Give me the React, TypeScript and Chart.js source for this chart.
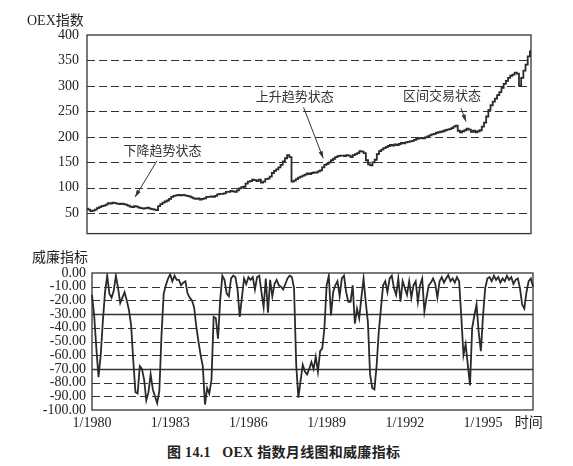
import React, { useEffect, useRef } from 'react';
import { Chart, registerables } from 'chart.js';

Chart.register(...registerables);

// ---------- data ----------
const YEARS = [1980, 1981, 1982, 1983, 1984, 1985, 1986, 1987, 1988, 1989, 1990, 1991, 1992, 1993, 1994, 1995, 1996];
const MONTH_LABELS: string[] = [];
YEARS.forEach((y) => { for (let m = 1; m <= 12; m++) MONTH_LABELS.push(`${m}/${y}`); });

const X_TICK_LABELS = ['1/1980', '1/1983', '1/1986', '1/1989', '1/1992', '1/1995'];
const TIME_LABEL_AT = '10/1996';
const TIME_LABEL = '时间';

const OEX = [
  59, 57, 54, 55, 57, 60, 62, 64, 65, 67, 70, 69,
  71, 70, 69, 68, 69, 68, 67, 65, 63, 62, 64, 63,
  61, 60, 59, 60, 61, 59, 58, 57, 56, 64, 68, 71,
  73, 75, 78, 82, 84, 85, 86, 85, 86, 85, 84, 83,
  81, 79, 78, 79, 77, 78, 79, 82, 82, 83, 82, 84,
  87, 88, 88, 89, 92, 92, 94, 93, 92, 95, 99, 101,
  102, 108, 112, 113, 116, 115, 113, 116, 110, 112, 117, 118,
  122, 129, 133, 136, 140, 145, 152, 158, 164, 160, 112, 114,
  117, 120, 122, 124, 126, 128, 127, 129, 130, 130, 132, 134,
  140, 145, 147, 150, 154, 157, 160, 162, 163, 163, 162, 164,
  163, 160, 164, 166, 168, 172, 171, 168, 154, 146, 144, 150,
  155, 166, 172, 175, 178, 180, 182, 184, 183, 185, 184, 186,
  188, 187, 189, 190, 191, 192, 194, 196, 197, 198, 197, 199,
  201, 203, 205, 206, 208, 209, 210, 211, 213, 214, 215, 217,
  220, 222, 212, 209, 211, 213, 216, 214, 210, 212, 209, 211,
  213, 220, 228, 240, 253, 262, 269, 275, 282, 288, 296, 304,
  310, 316, 320, 322, 326, 324, 300, 316, 330, 342, 358, 368,
];

const WILLIAMS = [
  -16, -31, -55, -76, -60, -35, -14, -2, -15, -18, -13, -2,
  -11, -22, -18, -14, -20, -27, -38, -64, -87, -88, -68, -70,
  -78, -93, -87, -74, -85, -90, -95, -86, -45, -15, -9, -4,
  -1, -6, -2, -5, -5, -9, -7, -6, -15, -18, -20, -25,
  -39, -50, -60, -68, -96, -84, -88, -78, -32, -33, -48, -20,
  -2, -5, -15, -17, -4, -2, -3, -12, -32, -18, -4, -8,
  -3, -5, -3, -12, -3, -2, -14, -25, -4, -29, -5, -17,
  -8, -5, -9, -10, -12, -8, -4, -2, -3, -11, -67, -91,
  -79, -67, -72, -74, -70, -65, -70, -61, -72, -57, -55, -40,
  -9, -2, -31, -14, -9, -6, -17, -4, -2, -14, -21, -21,
  -9, -37, -26, -33, -18, -4, -21, -36, -74, -84, -85, -68,
  -43, -26, -9, -6, -14, -4, -2, -11, -16, -4, -21, -6,
  -11, -16, -6, -18, -9, -6, -21, -9, -4, -28, -18, -9,
  -7, -4, -8, -18, -6, -3, -7, -4, -1.5, -6, -4, -7,
  -3, -6, -32, -60, -52, -67, -82, -40, -31, -23, -43, -57,
  -31, -11, -4, -3, -6, -2, -5, -3, -7, -4, -6, -2,
  -5, -3, -8, -5, -4, -11, -23, -26, -14, -6, -4, -10,
];

const TOP_TICKS = [50, 100, 150, 200, 250, 300, 350, 400];
const TOP_DASHED = [50, 100, 150, 200, 250, 300, 350];
const WR_TICKS = [0, -10, -20, -30, -40, -50, -60, -70, -80, -90, -100];
const WR_DASHED = [-10, -20, -40, -50, -60, -80, -90];
const WR_SOLID = [-30, -70];

const ANNOTATIONS = [
  { text: '下降趋势状态', textIdx: 34.5, textVal: 172, tailIdx: 32, tailVal: 153, tipIdx: 22, tipVal: 82 },
  { text: '上升趋势状态', textIdx: 95, textVal: 278, tailIdx: 99, tailVal: 258, tipIdx: 108, tipVal: 158 },
  { text: '区间交易状态', textIdx: 162.3, textVal: 280, tailIdx: 171, tailVal: 256, tipIdx: 173.3, tipVal: 230 },
];

const SERIF = "'Liberation Serif', 'Noto Sans CJK SC', serif";
const INK = '#2a2a2a';

// ---------- plugins ----------
function makeGridFrame(dashed: number[], solid: number[]) {
  return {
    id: 'gridFrame',
    beforeDatasetsDraw(chart: any) {
      const { ctx, chartArea: a } = chart;
      const y = chart.scales.y;
      ctx.save();
      ctx.strokeStyle = '#333';
      ctx.lineWidth = 1;
      ctx.setLineDash([8, 4]);
      dashed.forEach((v) => {
        const py = Math.round(y.getPixelForValue(v)) + 0.5;
        ctx.beginPath(); ctx.moveTo(a.left, py); ctx.lineTo(a.right, py); ctx.stroke();
      });
      ctx.setLineDash([]);
      ctx.lineWidth = 1.5;
      solid.forEach((v) => {
        const py = Math.round(y.getPixelForValue(v)) + 0.5;
        ctx.beginPath(); ctx.moveTo(a.left, py); ctx.lineTo(a.right, py); ctx.stroke();
      });
      ctx.lineWidth = 1.3;
      ctx.strokeRect(a.left, a.top, a.right - a.left, a.bottom - a.top);
      ctx.restore();
    },
  };
}

const annotationPlugin = {
  id: 'annot',
  afterDatasetsDraw(chart: any) {
    const { ctx } = chart;
    const x = chart.scales.x;
    const y = chart.scales.y;
    ctx.save();
    ctx.fillStyle = '#333';
    ctx.strokeStyle = '#333';
    ctx.font = `13px ${SERIF}`;
    ctx.textAlign = 'center';
    ctx.textBaseline = 'middle';
    ANNOTATIONS.forEach((an) => {
      ctx.fillText(an.text, x.getPixelForValue(an.textIdx), y.getPixelForValue(an.textVal));
      const x1 = x.getPixelForValue(an.tailIdx), y1 = y.getPixelForValue(an.tailVal);
      const x2 = x.getPixelForValue(an.tipIdx), y2 = y.getPixelForValue(an.tipVal);
      ctx.lineWidth = 1;
      ctx.beginPath(); ctx.moveTo(x1, y1); ctx.lineTo(x2, y2); ctx.stroke();
      const ang = Math.atan2(y2 - y1, x2 - x1);
      const L = 7, W = 2.2;
      ctx.beginPath();
      ctx.moveTo(x2, y2);
      ctx.lineTo(x2 - L * Math.cos(ang) + W * Math.sin(ang), y2 - L * Math.sin(ang) - W * Math.cos(ang));
      ctx.lineTo(x2 - L * Math.cos(ang) - W * Math.sin(ang), y2 - L * Math.sin(ang) + W * Math.cos(ang));
      ctx.closePath();
      ctx.fill();
    });
    ctx.restore();
  },
};

// ---------- component ----------
export default function App() {
  const topRef = useRef<HTMLCanvasElement>(null);
  const botRef = useRef<HTMLCanvasElement>(null);

  useEffect(() => {
    const top = new Chart(topRef.current as HTMLCanvasElement, {
      type: 'line',
      data: {
        labels: MONTH_LABELS,
        datasets: [{
          data: OEX,
          borderColor: INK,
          borderWidth: 1.8,
          pointRadius: 0,
          stepped: 'middle',
          fill: false,
        }],
      },
      options: {
        animation: false,
        responsive: false,
        devicePixelRatio: 1,
        layout: { padding: { top: 35, right: 42, bottom: 7, left: 0 } },
        plugins: { legend: { display: false }, tooltip: { enabled: false } },
        scales: {
          x: { display: false },
          y: {
            min: 10,
            max: 400,
            afterBuildTicks: (s: any) => { s.ticks = TOP_TICKS.map((v) => ({ value: v })); },
            afterFit: (s: any) => { s.width = 87; },
            grid: { display: false, drawTicks: false },
            border: { display: false },
            ticks: { autoSkip: false, color: '#222', padding: 8, font: { family: SERIF, size: 14 } },
          },
        },
      } as any,
      plugins: [makeGridFrame(TOP_DASHED, []), annotationPlugin],
    });

    const bot = new Chart(botRef.current as HTMLCanvasElement, {
      type: 'line',
      data: {
        labels: MONTH_LABELS,
        datasets: [{
          data: WILLIAMS,
          borderColor: INK,
          borderWidth: 1.8,
          pointRadius: 0,
          tension: 0,
          fill: false,
        }],
      },
      options: {
        animation: false,
        responsive: false,
        devicePixelRatio: 1,
        layout: { padding: { top: 23, right: 40, bottom: 0, left: 0 } },
        plugins: { legend: { display: false }, tooltip: { enabled: false } },
        scales: {
          x: {
            grid: { display: false, drawTicks: false },
            border: { display: false },
            afterFit: (s: any) => { s.height = 30; },
            ticks: {
              autoSkip: false,
              maxRotation: 0,
              minRotation: 0,
              padding: 5,
              color: '#222',
              font: { family: SERIF, size: 14 },
              callback: function (this: any, value: any) {
                const lab = this.getLabelForValue(value);
                if (X_TICK_LABELS.includes(lab)) return lab;
                if (lab === TIME_LABEL_AT) return TIME_LABEL;
                return '';
              },
            },
          },
          y: {
            min: -100,
            max: 0,
            afterBuildTicks: (s: any) => { s.ticks = WR_TICKS.map((v) => ({ value: v })); },
            afterFit: (s: any) => { s.width = 92; },
            grid: { display: false, drawTicks: false },
            border: { display: false },
            ticks: {
              autoSkip: false,
              color: '#222',
              padding: 6,
              font: { family: SERIF, size: 14 },
              callback: (v: any) => Number(v).toFixed(2),
            },
          },
        },
      } as any,
      plugins: [makeGridFrame(WR_DASHED, WR_SOLID)],
    });

    return () => { top.destroy(); bot.destroy(); };
  }, []);

  const txt: React.CSSProperties = {
    position: 'absolute', whiteSpace: 'pre', lineHeight: 1, color: '#222', fontFamily: SERIF,
  };

  return (
    <div style={{ position: 'fixed', left: 0, top: 0, width: 573, height: 466, background: '#fff', overflow: 'hidden' }}>
      <canvas ref={topRef} width={573} height={250} style={{ position: 'absolute', left: 0, top: 0 }} />
      <canvas ref={botRef} width={573} height={190} style={{ position: 'absolute', left: 0, top: 250 }} />
      <div style={{ ...txt, left: 27, top: 14, fontSize: 14 }}>OEX指数</div>
      <div style={{ ...txt, left: 32, top: 251, fontSize: 14 }}>威廉指标</div>
      <div style={{ ...txt, left: 167, top: 446, fontSize: 14, fontWeight: 'bold', letterSpacing: 0.3 }}>图 14.1   OEX 指数月线图和威廉指标</div>
    </div>
  );
}
